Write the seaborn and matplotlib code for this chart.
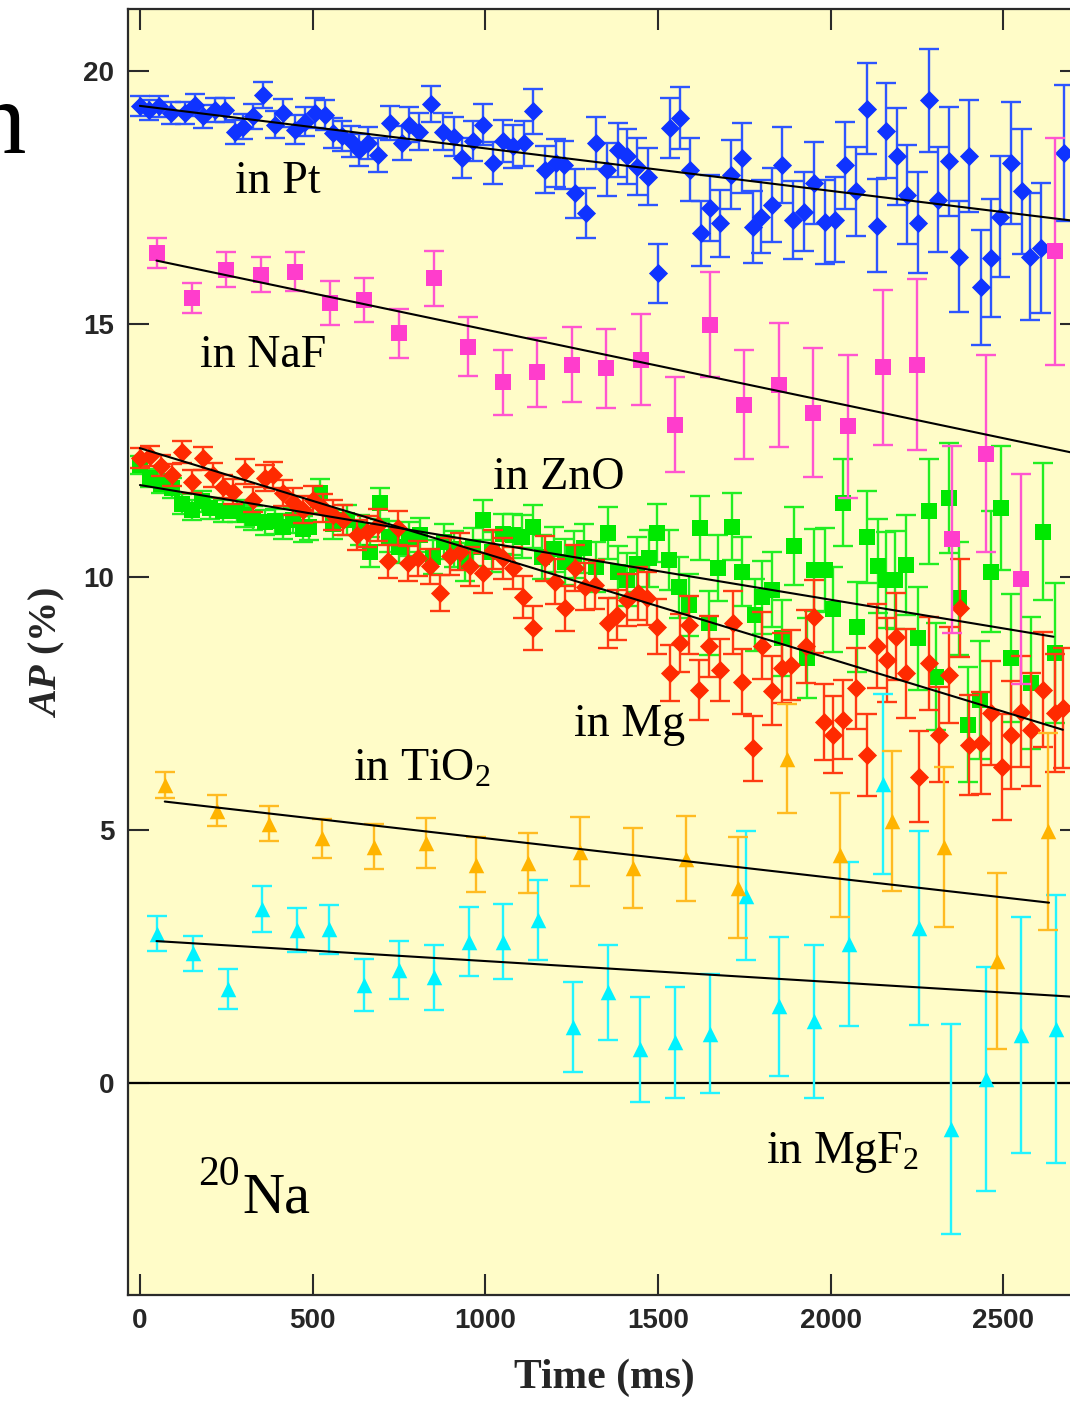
import numpy as np
import pandas as pd
import matplotlib
matplotlib.use("Agg")
import matplotlib.pyplot as plt
import seaborn as sns
from matplotlib import font_manager

# ---------------------------------------------------------------- data
# 20Na asymmetry AP (%) versus time (ms) for different host materials

pt_t = [0, 25, 55, 91, 130, 159, 183, 216, 245, 274,
        298, 327, 356, 390, 414, 448, 477, 506, 535, 560,
        585, 610, 633, 660, 689, 723, 759, 778, 809, 842,
        877, 908, 933, 963, 994, 1023, 1050, 1081, 1112, 1139,
        1174, 1205, 1229, 1260, 1291, 1320, 1353, 1384, 1409, 1440,
        1471, 1499, 1535, 1565, 1592, 1623, 1650, 1679, 1712, 1743,
        1774, 1799, 1829, 1858, 1891, 1922, 1951, 1982, 2013, 2040,
        2074, 2104, 2133, 2161, 2191, 2222, 2254, 2285, 2312, 2343,
        2371, 2399, 2436, 2464, 2491, 2522, 2553, 2578, 2609, 2675]
pt_ap = [19.31, 19.24, 19.31, 19.18, 19.18, 19.34, 19.11, 19.24, 19.24, 18.81,
         18.91, 19.11, 19.54, 18.95, 19.18, 18.85, 19.01, 19.18, 19.14, 18.78,
         18.72, 18.62, 18.45, 18.58, 18.35, 18.98, 18.58, 18.95, 18.81, 19.36,
         18.81, 18.71, 18.29, 18.62, 18.95, 18.19, 18.62, 18.52, 18.58, 19.21,
         18.06, 18.19, 18.15, 17.59, 17.20, 18.58, 18.06, 18.45, 18.32, 18.12,
         17.92, 16.01, 18.88, 19.08, 18.06, 16.80, 17.30, 17.00, 17.96, 18.29,
         16.93, 17.13, 17.36, 18.15, 17.07, 17.23, 17.79, 17.03, 17.07, 18.15,
         17.63, 19.26, 16.95, 18.83, 18.32, 17.56, 17.01, 19.43, 17.46, 18.22,
         16.34, 18.33, 15.73, 16.31, 17.13, 18.19, 17.63, 16.34, 16.51, 18.39]
pt_err = [.20, .20, .21, .21, .22, .22, .23, .23, .24, .24,
          .25, .25, .26, .26, .27, .28, .28, .29, .29, .30,
          .30, .31, .31, .32, .33, .34, .34, .35, .36, .36,
          .37, .38, .39, .40, .41, .41, .42, .43, .44, .45,
          .46, .47, .48, .49, .50, .51, .53, .54, .55, .56,
          .57, .58, .60, .61, .62, .64, .65, .66, .68, .69,
          .71, .72, .74, .76, .77, .79, .81, .83, .84, .86,
          .88, .90, .92, .94, .96, .98, 1.00, 1.02, 1.04, 1.07,
          1.09, 1.11, 1.14, 1.16, 1.19, 1.21, 1.24, 1.26, 1.29, 1.35]

naf_t = [50, 150, 250, 350, 450, 550, 650, 750, 850, 950, 1050, 1150, 1250, 1350,
         1450, 1550, 1650, 1750, 1850, 1950, 2050, 2150, 2250, 2350, 2450, 2550, 2650]
naf_ap = [16.41, 15.52, 16.08, 15.98, 16.04, 15.42, 15.48, 14.82, 15.91, 14.56,
          13.85, 14.05, 14.20, 14.13, 14.30, 13.01, 14.99, 13.41, 13.80, 13.25,
          12.98, 14.15, 14.20, 10.75, 12.44, 9.96, 16.44]
naf_err = [0.30, 0.29, 0.35, 0.35, 0.38, 0.44, 0.44, 0.48, 0.54, 0.58, 0.64, 0.68,
           0.74, 0.78, 0.90, 0.94, 1.04, 1.08, 1.23, 1.28, 1.42, 1.53, 1.69, 1.85,
           1.95, 2.07, 2.25]

zno_t = [0, 29, 60, 92, 121, 150, 180, 203, 241, 280,
         304, 328, 362, 391, 415, 444, 473, 490, 520, 560,
         599, 637, 666, 695, 720, 750, 780, 811, 849, 880,
         910, 940, 965, 994, 1020, 1050, 1081, 1106, 1137, 1165,
         1200, 1230, 1258, 1285, 1320, 1355, 1385, 1410, 1440, 1474,
         1497, 1532, 1560, 1590, 1622, 1648, 1674, 1714, 1743, 1780,
         1800, 1830, 1858, 1895, 1932, 1953, 1982, 2006, 2037, 2077,
         2106, 2138, 2160, 2186, 2219, 2253, 2285, 2306, 2343, 2371,
         2398, 2432, 2464, 2493, 2522, 2580, 2616, 2648]
zno_ap = [12.22, 11.96, 11.85, 11.76, 11.45, 11.33, 11.50, 11.36, 11.30, 11.30,
          11.22, 11.17, 11.08, 11.10, 11.00, 11.12, 10.95, 11.00, 11.66, 11.04,
          11.13, 10.93, 10.50, 11.46, 10.80, 10.60, 10.75, 10.83, 10.40, 10.70,
          10.55, 10.30, 10.60, 11.13, 10.50, 10.85, 10.84, 10.80, 11.00, 10.40,
          10.55, 10.30, 10.45, 10.57, 10.20, 10.87, 10.10, 9.95, 10.25, 10.37,
          10.87, 10.34, 9.80, 9.45, 10.97, 9.09, 10.18, 11.00, 10.11, 9.25,
          9.60, 9.75, 8.79, 10.62, 8.40, 10.14, 10.14, 9.36, 11.47, 9.02,
          10.80, 10.21, 9.94, 9.94, 10.24, 8.79, 11.30, 8.03, 11.56, 9.58,
          7.08, 7.57, 10.11, 11.36, 8.40, 7.90, 10.90, 8.50]
zno_err = [.18, .18, .19, .19, .20, .20, .21, .21, .22, .22,
           .23, .23, .24, .24, .25, .25, .26, .26, .27, .28,
           .29, .29, .30, .31, .31, .32, .33, .34, .34, .35,
           .36, .37, .38, .39, .39, .40, .41, .42, .43, .44,
           .45, .46, .47, .48, .50, .51, .52, .53, .54, .56,
           .57, .59, .60, .61, .63, .64, .65, .67, .69, .71,
           .72, .74, .75, .77, .80, .81, .83, .84, .86, .89,
           .91, .93, .95, .97, .99, 1.02, 1.04, 1.06, 1.09, 1.12,
           1.14, 1.17, 1.20, 1.23, 1.26, 1.31, 1.35, 1.38]

mg_t = [0, 30, 60, 92, 121, 150, 184, 213, 241, 270,
        304, 328, 362, 386, 415, 444, 473, 502, 531, 560,
        589, 628, 657, 690, 719, 748, 777, 806, 840, 869,
        898, 927, 956, 994, 1023, 1052, 1081, 1110, 1139, 1173,
        1202, 1231, 1260, 1289, 1318, 1356, 1380, 1411, 1443, 1469,
        1497, 1535, 1564, 1590, 1620, 1648, 1679, 1716, 1743, 1774,
        1800, 1830, 1858, 1885, 1927, 1953, 1980, 2006, 2037, 2074,
        2104, 2135, 2164, 2190, 2219, 2257, 2285, 2314, 2343, 2374,
        2401, 2434, 2464, 2495, 2522, 2550, 2580, 2616, 2648, 2672]
mg_ap = [12.35, 12.40, 12.20, 12.02, 12.48, 11.89, 12.35, 12.02, 11.79, 11.69,
         12.09, 11.53, 11.96, 12.02, 11.66, 11.49, 11.33, 11.53, 11.36, 11.23,
         11.13, 10.83, 10.90, 11.03, 10.31, 10.97, 10.27, 10.37, 10.21, 9.68,
         10.41, 10.50, 10.21, 10.08, 10.54, 10.37, 10.18, 9.61, 8.99, 10.37,
         9.91, 9.38, 10.18, 9.81, 9.85, 9.09, 9.25, 9.55, 9.68, 9.58,
         9.02, 8.10, 8.69, 9.05, 7.77, 8.63, 8.16, 9.10, 7.93, 6.61,
         8.64, 7.75, 8.20, 8.26, 8.63, 9.22, 7.14, 6.88, 7.18, 7.80,
         6.48, 8.64, 8.36, 8.82, 8.10, 6.05, 8.30, 6.88, 8.07, 9.38,
         6.68, 6.72, 7.31, 6.25, 6.88, 7.34, 6.98, 7.77, 7.31, 7.41]
mg_err = [.20, .20, .21, .21, .22, .22, .23, .23, .23, .24,
          .24, .25, .25, .26, .26, .27, .27, .28, .28, .29,
          .30, .30, .31, .32, .32, .33, .34, .34, .35, .36,
          .36, .37, .38, .39, .39, .40, .41, .42, .43, .44,
          .45, .45, .46, .47, .48, .49, .50, .51, .52, .53,
          .54, .56, .57, .58, .59, .60, .61, .63, .64, .65,
          .66, .68, .69, .70, .72, .73, .75, .76, .78, .80,
          .81, .83, .84, .86, .88, .90, .92, .94, .95, .97,
          .99, 1.01, 1.03, 1.05, 1.07, 1.09, 1.12, 1.14, 1.17, 1.19]

tio2_t = [72, 224, 375, 526, 678, 828, 973, 1124, 1274, 1428, 1580, 1731, 1874,
          2027, 2177, 2327, 2480, 2630]
tio2_ap = [5.89, 5.38, 5.12, 4.83, 4.67, 4.74, 4.31, 4.35, 4.57, 4.25, 4.43, 3.86,
           6.41, 4.50, 5.18, 4.66, 2.41, 4.97]
tio2_err = [0.25, 0.30, 0.35, 0.39, 0.45, 0.49, 0.54, 0.59, 0.69, 0.79, 0.84, 0.99,
            1.08, 1.22, 1.38, 1.58, 1.74, 1.95]

mgf2_t = [50, 153, 254, 354, 456, 548, 650, 751, 851, 953, 1052, 1153, 1255, 1355,
          1448, 1550, 1650, 1755, 1851, 1953, 2053, 2152, 2257, 2348, 2450, 2550, 2651]
mgf2_ap = [2.95, 2.56, 1.85, 3.43, 3.02, 3.03, 1.93, 2.23, 2.08, 2.79, 2.79, 3.22,
           1.11, 1.79, 0.66, 0.80, 0.97, 3.70, 1.51, 1.21, 2.75, 5.91, 3.06, -0.91,
           0.07, 0.94, 1.06]
mgf2_err = [0.35, 0.35, 0.39, 0.45, 0.43, 0.48, 0.52, 0.58, 0.64, 0.69, 0.74, 0.79,
            0.89, 0.94, 1.04, 1.10, 1.18, 1.28, 1.38, 1.51, 1.62, 1.78, 1.92, 2.08,
            2.22, 2.33, 2.65]

# linear fits: (time range, AP at both ends), order Pt, NaF, ZnO, Mg, TiO2, MgF2
fit_t_start = [0, 48, 0, 0, 72, 48]
fit_t_end = [2700, 2700, 2645, 2672, 2632, 2700]
fit_ap_start = [19.32, 16.26, 11.82, 12.55, 5.56, 2.80]
fit_ap_end = [17.05, 12.46, 8.82, 6.98, 3.56, 1.70]

x_ticks = [0, 500, 1000, 1500, 2000, 2500]
y_ticks = [0, 5, 10, 15, 20]

# ---------------------------------------------------------------- style
sns.set_style("ticks")
plt.rcParams["font.family"] = ["Liberation Serif", "DejaVu Serif"]
plt.rcParams["mathtext.fontset"] = "custom"
plt.rcParams["mathtext.rm"] = "Liberation Serif"
plt.rcParams["mathtext.it"] = "Liberation Serif:italic:bold"
plt.rcParams["mathtext.bf"] = "Liberation Serif:bold"
plt.rcParams["mathtext.default"] = "regular"

installed = {f.name for f in font_manager.fontManager.ttflist}
if "Liberation Sans Narrow" in installed:
    tick_font = dict(family="Liberation Sans Narrow", weight="bold", size=24)
else:
    tick_font = dict(family="Liberation Sans", weight="bold", size=20)

BG = "#fffcc8"
SPINE = "#2a2a2a"

series = [
    # name, t, ap, err, marker, size, face, bar colour, zorder
    ("ZnO", zno_t, zno_ap, zno_err, "s", 140, "#00e800", "#22ee22", 2),
    ("Mg", mg_t, mg_ap, mg_err, "D", 95, "#ff2a00", "#ff3a12", 3),
    ("Pt", pt_t, pt_ap, pt_err, "D", 95, "#0f33ff", "#2d55ff", 4),
    ("NaF", naf_t, naf_ap, naf_err, "s", 140, "#ff3dcc", "#ff55d0", 5),
    ("MgF2", mgf2_t, mgf2_ap, mgf2_err, "^", 125, "#00f2ff", "#22f4ff", 6),
    ("TiO2", tio2_t, tio2_ap, tio2_err, "^", 125, "#ffb400", "#ffbb22", 7),
]

fig = plt.figure(figsize=(10.7, 14.01), dpi=100)
fig.patch.set_facecolor("white")
ax = fig.add_axes([0.11991, 0.07566, 0.89037, 0.91770])
ax.set_facecolor(BG)

# zero reference line
ax.axhline(0, color="black", lw=1.6, zorder=1.5)

for name, t, ap, err, mk, sz, face, bar, z in series:
    df = pd.DataFrame({"time": t, "ap": ap, "err": err})
    ax.errorbar(df["time"], df["ap"], yerr=df["err"], fmt="none",
                ecolor=bar, elinewidth=1.7, capsize=7.5, capthick=1.7,
                zorder=z)
    sns.scatterplot(data=df, x="time", y="ap", marker=mk, s=sz, color=face,
                    linewidth=0, ax=ax, zorder=z + 0.1, legend=False)

fits = pd.DataFrame({"t0": fit_t_start, "t1": fit_t_end,
                     "a0": fit_ap_start, "a1": fit_ap_end})
for i, row in fits.iterrows():
    seg = pd.DataFrame({"time": [row.t0, row.t1], "ap": [row.a0, row.a1]})
    sns.lineplot(data=seg, x="time", y="ap", color="black", lw=1.5,
                 ax=ax, zorder=9, legend=False)

# material labels
label_font = dict(family="Liberation Serif", size=33, color="black", zorder=10)
material_labels = [
    ("in Pt", 275, 17.60),
    ("in NaF", 174, 14.15),
    ("in ZnO", 1023, 11.74),
    ("in Mg", 1258, 6.86),
    ("in TiO$_2$", 618, 5.97),
    ("in MgF$_2$", 1814, -1.58),
]
for txt, tx, ty in material_labels:
    ax.text(tx, ty, txt, ha="left", va="baseline", **label_font)

ax.text(168, -2.03, "20", ha="left", va="baseline", family="Liberation Serif",
        size=30, color="black", zorder=10)
ax.text(296, -2.57, "Na", ha="left", va="baseline", family="Liberation Serif",
        size=42, color="black", zorder=10)

# axes
ax.set_xlim(-33.6, 2724.6)
ax.set_ylim(-4.20, 21.23)
ax.set_xticks(x_ticks)
ax.set_yticks(y_ticks)
ax.set_xticklabels([str(v) for v in x_ticks], fontdict=tick_font)
ax.set_yticklabels([str(v) for v in y_ticks], fontdict=tick_font)
ax.tick_params(axis="both", which="major", direction="in", length=15,
               width=1.5, color=SPINE, top=True, right=True,
               labeltop=False, labelright=False)
ax.tick_params(axis="x", pad=9)
ax.tick_params(axis="y", pad=10)
for side in ["left", "right", "top", "bottom"]:
    ax.spines[side].set_visible(True)
    ax.spines[side].set_color(SPINE)
    ax.spines[side].set_linewidth(1.6)

ax.set_xlabel("Time (ms)", family="Liberation Serif", weight="bold",
              size=30, labelpad=18)
ax.set_ylabel(r"$\mathit{AP}$ (%)", family="Liberation Serif", weight="bold",
              size=29, labelpad=12)

# trailing letter of the heading to the left of the panel
fig.text(26 / 1070, (1401 - 153) / 1401, "n", ha="right", va="baseline",
         family="Liberation Serif", size=74, color="black")

fig.savefig("out.png", dpi=100, facecolor="white")
